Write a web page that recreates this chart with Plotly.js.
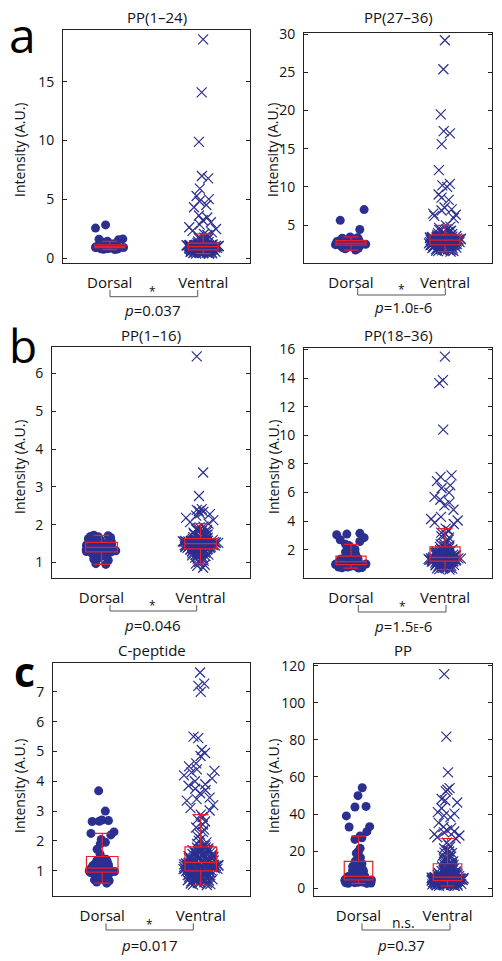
<!DOCTYPE html>
<html>
<head>
<meta charset="utf-8">
<script src="https://cdn.plot.ly/plotly-3.0.1.min.js"></script>
<style>html,body{margin:0;padding:0;background:#fff;}#chart{width:502px;height:961px;}</style>
</head>
<body>
<div id="chart"></div>
<script>
// ---------------- DATA ----------------
const categories = ['Dorsal', 'Ventral'];
const panelTitles = ['PP(1–24)', 'PP(27–36)', 'PP(1–16)', 'PP(18–36)', 'C-peptide', 'PP'];
const panelLetters = ['a', 'b', 'c'];
const sigLabels = ['*', '*', '*', '*', '*', 'n.s.'];
const pLabels = ['<i>p</i>=0.037', '<i>p</i>=1.0<span style="font-size:10px">E</span>-6',
                 '<i>p</i>=0.046', '<i>p</i>=1.5<span style="font-size:10px">E</span>-6',
                 '<i>p</i>=0.017', '<i>p</i>=0.37'];
const yTicks1 = [0, 5, 10, 15];
const yTicks2 = [5, 10, 15, 20, 25, 30];
const yTicks3 = [1, 2, 3, 4, 5, 6];
const yTicks4 = [2, 4, 6, 8, 10, 12, 14, 16];
const yTicks5 = [1, 2, 3, 4, 5, 6, 7];
const yTicks6 = [0, 20, 40, 60, 80, 100, 120];

// PP(1-24)
const pp124_dorsal = [0.88,0.95,1.02,0.79,0.91,1.12,0.86,0.97,1.35,0.83,0.93,1.05,0.74,0.9,1.18,0.96,0.87,1.01,2.55,0.94,
  1.25,0.81,0.99,1.08,0.92,0.77,1.42,0.89,1.03,0.95,1.6,0.85,0.98,1.14,0.93,2.82,0.72,1.06,0.9,1.3,
  0.96,0.84,1.55,1.0,0.88,1.22,0.94,1.63,0.8,1.1];
const pp124_ventral = [0.37,0.52,0.44,0.61,0.58,0.40,0.66,0.49,0.55,0.63,0.47,0.68,0.42,0.57,0.60,0.51,0.45,0.64,0.53,0.39,
  0.59,0.67,0.48,0.62,0.56,0.43,0.65,0.50,0.54,0.46,0.61,0.58,
  0.71,0.83,0.77,0.92,0.69,0.88,0.74,0.81,0.95,0.79,0.86,0.72,0.90,0.84,0.76,0.93,0.70,0.87,0.80,0.75,
  0.91,0.82,0.78,0.94,0.73,0.89,0.85,0.78,0.92,0.83,0.71,0.88,
  1.02,0.97,1.11,1.05,1.15,0.99,1.08,1.13,1.01,0.96,1.07,1.14,1.04,1.10,0.98,1.12,1.06,1.00,1.16,1.03,
  1.09,0.97,1.13,1.05,1.01,1.11,1.07,0.99,1.15,1.03,1.09,1.06,
  1.22,1.35,1.48,1.29,1.61,1.74,1.41,1.56,1.83,1.27,1.68,1.45,
  2.05,2.31,1.96,2.62,2.85,2.18,3.05,2.47,3.22,
  3.45,3.62,4.32,4.51,4.83,5.02,5.28,5.91,6.78,6.98,9.88,14.1,18.6];

// PP(27-36)
const pp2736_dorsal = [2.6,2.31,2.95,2.12,2.48,3.2,2.75,1.72,2.55,2.4,3.05,2.83,2.22,2.64,4.42,2.5,2.9,2.28,3.35,2.7,
  1.95,2.58,2.35,3.1,2.8,5.62,2.46,2.18,2.67,3.0,2.43,2.93,2.05,2.62,7.02,2.52,3.15,2.25,2.86,2.72,
  3.45,2.38,1.88,2.78,3.28];
const pp2736_ventral = [1.52,2.1,1.85,2.32,1.68,2.25,1.95,2.38,1.75,2.05,2.28,1.6,2.18,1.9,2.35,2.0,1.8,2.22,1.58,2.15,
  2.3,1.72,2.08,1.98,2.4,1.88,2.2,1.65,2.12,2.36,1.93,2.26,
  2.45,2.72,2.58,2.9,2.5,2.82,2.64,2.98,2.42,2.76,2.55,2.88,2.68,2.47,2.95,2.6,2.8,2.52,2.7,2.92,
  2.44,2.66,2.85,2.57,2.74,2.49,2.96,2.62,2.78,2.53,2.87,2.69,
  3.02,3.35,3.18,3.55,3.08,3.42,3.25,3.58,3.12,3.48,3.3,3.05,3.52,3.2,3.38,3.15,3.45,3.1,3.28,3.57,
  3.22,3.4,3.04,3.33,3.5,3.16,3.26,3.44,3.07,3.36,3.6,3.24,
  3.72,4.1,3.85,4.45,3.95,4.8,4.25,3.68,4.62,4.02,4.95,3.78,4.35,4.18,
  5.9,6.2,6.35,6.5,6.9,7.05,7.3,
  8.3,8.6,9.0,10.0,10.2,10.4,12.2,15.6,17.0,17.3,19.5,25.4,29.2];

// PP(1-16)
const pp116_dorsal = [0.95,0.97,1.06,1.09,1.13,1.16,1.17,1.21,1.22,1.24,1.25,1.27,
  1.28,1.3,1.31,1.32,1.34,1.35,1.36,1.37,1.38,1.33,1.29,1.39,1.36,
  1.41,1.43,1.44,1.46,1.47,1.48,1.5,1.51,1.52,1.42,1.45,1.49,1.53,
  1.55,1.57,1.58,1.6,1.62,1.63,1.65,1.66,1.68,1.69,1.71,1.72];
const pp116_ventral = [0.86,1.21,0.91,1.28,1.05,1.33,0.94,1.17,1.3,1.09,1.25,1.35,1.14,0.97,1.27,1.19,1.32,1.02,1.24,1.11,
  1.34,1.29,1.16,1.22,1.07,1.31,1.26,1.13,1.34,1.2,1.29,1.24,
  1.37,1.44,1.4,1.48,1.36,1.42,1.46,1.39,1.47,1.43,1.38,1.45,1.41,1.49,1.36,1.44,1.4,1.47,1.42,1.38,
  1.46,1.43,1.39,1.48,1.41,1.45,1.37,1.44,1.4,1.47,1.42,1.46,
  1.52,1.57,1.5,1.59,1.54,1.51,1.56,1.6,1.53,1.58,1.55,1.5,1.57,1.52,1.59,1.54,1.56,1.51,1.58,1.53,
  1.6,1.55,1.52,1.57,1.54,1.59,1.5,1.56,1.53,1.58,1.55,1.51,
  1.63,1.78,1.69,1.91,1.66,1.84,1.72,1.95,1.64,1.81,1.75,1.88,1.67,1.93,1.7,1.86,1.79,1.62,1.83,1.74,
  2.03,2.36,2.12,2.41,2.07,2.3,2.18,2.34,2.24,2.39,2.28,2.76,3.38,6.45];

// PP(18-36)
const pp1836_dorsal = [0.74,0.88,0.79,0.93,0.82,0.76,0.9,0.85,0.72,0.94,0.8,0.87,
  0.97,1.08,1.01,1.13,0.99,1.05,1.11,1.03,1.15,0.96,1.07,1.1,1.02,
  1.2,1.36,1.25,1.5,1.3,1.44,1.22,1.56,1.33,1.47,1.28,1.4,1.54,
  1.68,1.85,2.02,2.18,2.3,2.38,
  2.58,2.7,2.85,3.05,3.1,3.15];
const pp1836_ventral = [0.62,0.95,0.78,1.12,0.68,1.05,0.88,1.18,0.72,0.99,1.15,0.83,1.08,0.65,0.92,1.19,0.8,1.02,0.75,1.14,
  0.9,1.1,0.7,0.97,1.17,0.85,1.06,0.77,1.13,0.94,1.01,1.16,
  1.22,1.35,1.28,1.42,1.25,1.38,1.31,1.44,1.21,1.33,1.4,1.27,1.36,1.23,1.43,1.3,1.39,1.26,1.34,1.41,
  1.24,1.37,1.29,1.45,1.32,1.22,1.4,1.35,1.28,1.43,1.3,1.38,
  1.48,1.75,1.6,2.02,1.52,1.88,1.68,2.08,1.55,1.8,1.95,1.63,1.72,1.5,1.9,1.66,2.05,1.58,1.84,1.7,
  1.98,1.47,1.78,1.62,1.93,1.56,1.86,1.74,2.0,1.65,1.82,1.53,
  2.15,2.55,2.3,3.1,2.42,2.85,2.2,3.35,2.68,2.38,2.95,2.25,3.2,3.48,
  3.8,3.9,4.05,4.15,4.3,4.8,5.1,5.3,5.5,5.7,6.0,6.3,6.5,6.8,7.1,7.2,10.4,13.65,13.85,15.5];

// C-peptide
const cpep_dorsal = [0.58,0.85,0.66,0.92,0.72,0.62,0.88,0.78,0.94,0.69,0.82,0.9,0.75,0.8,
  0.96,1.02,0.99,1.05,0.97,1.04,1.0,1.06,0.98,1.03,1.01,1.07,0.99,1.03,
  1.1,1.25,1.15,1.38,1.2,1.32,1.12,1.28,1.35,1.18,1.22,1.4,1.3,1.27,
  1.55,1.72,1.9,1.95,2.05,
  2.2,2.25,2.3,2.65,2.66,2.68,2.7,3.0,3.68];
const cpep_ventral = [0.52,0.78,0.63,0.91,0.7,0.55,0.85,0.97,0.66,0.81,0.59,0.93,0.74,0.88,0.61,0.99,0.72,0.84,0.57,0.95,
  0.68,0.8,0.9,0.64,0.76,0.53,0.87,0.96,0.71,0.83,0.6,0.92,0.75,0.86,0.67,0.98,0.79,0.58,0.89,0.73,
  0.94,0.65,0.82,0.77,
  1.02,1.15,1.08,1.24,1.05,1.19,1.11,1.26,1.01,1.13,1.21,1.07,1.17,1.04,1.23,1.1,1.16,1.03,1.2,1.12,
  1.25,1.06,1.18,1.09,1.22,1.14,1.0,1.19,1.08,1.24,1.12,1.05,1.16,1.21,1.03,1.1,1.27,1.14,1.07,1.2,
  1.11,1.17,1.04,1.23,
  1.3,1.55,1.42,1.72,1.35,1.63,1.48,1.77,1.32,1.58,1.68,1.4,1.52,1.29,1.75,1.45,1.6,1.37,1.66,1.5,
  1.7,1.34,1.57,1.44,1.74,1.39,1.62,1.47,1.78,1.33,1.54,1.65,1.41,1.69,1.36,1.59,1.49,1.73,1.43,1.61,
  1.31,1.56,1.46,1.67,
  1.85,2.3,1.95,2.65,2.05,2.45,1.82,2.88,2.15,2.55,1.9,2.72,2.22,2.38,2.0,2.8,
  3.02,3.1,3.2,3.35,3.4,3.45,3.6,3.7,3.75,3.85,3.9,4.0,4.1,4.2,4.3,4.35,4.4,4.5,4.6,4.85,
  4.95,5.05,5.45,5.5,7.0,7.2,7.28,7.65];

// PP
const pp_dorsal = [2.6,3.8,3.1,4.4,2.9,3.5,4.1,2.7,3.3,4.3,3.0,3.9,2.8,3.6,4.2,3.2,
  4.6,5.8,5.1,6.4,4.8,5.5,6.1,4.7,5.3,6.3,5.0,5.9,4.9,5.6,6.2,5.2,
  6.8,10.5,8.2,14.6,7.4,11.8,9.1,13.2,7.0,12.5,8.8,10.0,7.8,14.2,9.6,11.2,
  16.5,18.8,19.8,21.5,26.3,27.2,28.1,
  30.5,33.0,33.2,39.0,43.8,44.1,49.9,54.2];
const pp_ventral = [1.3,3.2,2.1,3.9,1.6,2.8,3.5,2.4,1.9,3.7,2.6,1.4,3.0,2.2,3.8,1.8,2.9,3.4,2.0,4.0,
  1.5,2.7,3.3,2.3,3.6,1.7,3.1,2.5,3.9,1.2,2.8,3.5,2.1,3.7,1.9,3.0,2.6,4.05,1.6,3.2,
  2.4,3.8,2.0,3.4,
  4.2,5.1,4.6,5.8,4.4,5.4,4.9,5.7,4.3,5.0,5.5,4.7,5.2,4.15,5.85,4.8,5.3,4.5,5.6,4.25,
  5.05,4.65,5.45,4.35,5.75,4.95,5.25,4.55,5.65,4.45,5.15,4.85,5.35,4.75,5.55,4.2,5.9,4.6,5.0,4.4,
  5.3,4.9,5.7,4.3,
  6.1,9.5,7.4,12.6,6.6,10.8,8.2,12.1,6.3,9.0,11.5,7.0,8.8,6.0,12.9,7.8,10.2,6.8,11.0,8.5,
  12.4,6.4,9.8,7.2,11.8,6.9,9.2,7.6,12.8,8.0,10.5,6.2,11.3,7.5,9.6,6.7,12.2,8.4,10.0,7.1,
  11.7,6.5,9.3,7.9,
  13.5,18.2,15.1,22.5,14.2,19.8,16.4,24.5,13.8,20.5,17.0,23.2,14.8,18.9,15.6,21.4,16.8,19.2,14.5,17.6,
  26.8,27.5,28.4,29.2,30.1,30.6,31.2,32.4,33.1,35.2,38.3,39.1,40.2,41.0,43.1,46.2,47.3,48.1,52.2,53.1,
  54.0,62.5,81.7,115.4];

// ---------------- LAYOUT / STYLE ----------------
const W = 502, H = 961;
const px = x => x / W;
const py = y => 1 - y / H;
const BLUE = '#2b2f8f';
const RED = '#e8202a';
const AX = '#222';
const FONT = 'Open Sans, Noto Sans, sans-serif';

// Tukey upper fence, used only to split the points into two jitter groups
function upperFence(vals) {
  const s = [...vals].sort((a, b) => a - b);
  const q = f => { const p = (s.length - 1) * f, lo = Math.floor(p); return s[lo] + (s[Math.min(lo + 1, s.length - 1)] - s[lo]) * (p - lo); };
  const q1 = q(0.25), q3 = q(0.75);
  return q3 + 1.5 * (q3 - q1);
}

const panels = [
  {d: pp124_dorsal,  v: pp124_ventral,  box: [63, 30, 250, 263],  range: [-0.42, 19.4], ticks: yTicks1,
   br: [110, 197.7, 290, 296.7], star: [152.7, 291], pt: [152.5, 309.5], title: [156.5, 17], ylab: [20, 150]},
  {d: pp2736_dorsal, v: pp2736_ventral, box: [304, 33, 492, 263], range: [0.03, 30.15], ticks: yTicks2,
   br: [357.7, 445.3, 288.3, 295], star: [401, 289.5], pt: [403, 307], title: [398, 17], ylab: [273, 150]},
  {d: pp116_dorsal,  v: pp116_ventral,  box: [52, 347, 250, 578], range: [0.59, 6.7], ticks: yTicks3,
   br: [110, 196.7, 605, 611], star: [152.7, 605.5], pt: [152.5, 625], title: [151, 335], ylab: [19, 467]},
  {d: pp1836_dorsal, v: pp1836_ventral, box: [304, 348, 492, 578], range: [0.03, 16.1], ticks: yTicks4,
   br: [358.3, 446, 605, 612], star: [402.7, 606], pt: [403, 626], title: [398, 335], ylab: [273, 467]},
  {d: cpep_dorsal,   v: cpep_ventral,   box: [53, 663, 250, 896], range: [0.15, 7.97], ticks: yTicks5,
   br: [106, 193.3, 923.3, 930], star: [149, 924], pt: [149.7, 944.5], title: [152, 650], ylab: [19, 786]},
  {d: pp_dorsal,     v: pp_ventral,     box: [314, 664, 492, 896], range: [-4.2, 120.9], ticks: yTicks6,
   br: [362, 450, 923.3, 930], star: [403, 922], pt: [401, 944.5], title: [403, 650], ylab: [273, 786]}
];

const traces = [];
const layout = {
  width: W, height: H,
  margin: {l: 0, r: 0, t: 0, b: 0},
  paper_bgcolor: '#fff', plot_bgcolor: '#fff',
  showlegend: false,
  boxmode: 'overlay',
  font: {family: FONT, color: '#111', size: 14},
  annotations: [], shapes: []
};

panels.forEach((p, i) => {
  const n = i + 1;
  const xa = 'x' + (n === 1 ? '' : n), ya = 'y' + (n === 1 ? '' : n);
  const groups = [p.d, p.v];
  groups.forEach((vals, g) => {
    const isD = g === 0;
    const uf = upperFence(vals);
    const parts = [vals.filter(v => v <= uf), vals.filter(v => v > uf)];
    parts.forEach(part => {
      if (!part.length) return;
      traces.push({
        type: 'box', y: part, x0: g + 1, xaxis: xa, yaxis: ya,
        boxpoints: 'all', jitter: 1, pointpos: 0, width: 0.36,
        line: {width: 0, color: 'rgba(0,0,0,0)'}, fillcolor: 'rgba(0,0,0,0)',
        marker: isD ? {symbol: 'circle', size: 9, color: BLUE, line: {width: 0}}
                    : {symbol: 'x-thin', size: 10, color: BLUE, line: {width: 1.2, color: BLUE}},
        hoverinfo: 'skip'
      });
    });
  });
  groups.forEach((vals, g) => {
    traces.push({
      type: 'box', y: vals, x0: g + 1, xaxis: xa, yaxis: ya,
      boxpoints: 'outliers', marker: {opacity: 0, size: 1}, width: 0.32, whiskerwidth: 0.5,
      line: {color: RED, width: 1.2}, fillcolor: 'rgba(0,0,0,0)', hoverinfo: 'skip'
    });
  });
  const [l, t, r, b] = p.box;
  layout['xaxis' + (n === 1 ? '' : n)] = {
    domain: [px(l), px(r)], anchor: ya, range: [0.5, 2.5],
    tickvals: [1, 2], ticktext: categories, ticks: '', ticklabelstandoff: 6,
    showline: true, mirror: true, linecolor: AX, linewidth: 1,
    showgrid: false, zeroline: false, tickfont: {size: 15, family: FONT, color: '#111'}, fixedrange: true
  };
  layout['yaxis' + (n === 1 ? '' : n)] = {
    domain: [py(b), py(t)], anchor: xa, range: p.range,
    tickvals: p.ticks, ticks: 'inside', ticklen: 4, tickwidth: 1, tickcolor: AX, ticklabelstandoff: 5,
    showline: true, mirror: 'ticks', linecolor: AX, linewidth: 1,
    showgrid: false, zeroline: false, tickfont: {size: 14, family: FONT, color: '#111'}, fixedrange: true
  };
  layout.annotations.push({xref: 'paper', yref: 'paper', x: px(p.title[0]), y: py(p.title[1]),
    xanchor: 'center', yanchor: 'middle', text: panelTitles[i], showarrow: false, font: {size: 15}});
  layout.annotations.push({xref: 'paper', yref: 'paper', x: px(p.ylab[0]), y: py(p.ylab[1]),
    xanchor: 'center', yanchor: 'middle', text: 'Intensity (A.U.)', textangle: -90, showarrow: false, font: {size: 14}});
  const [x1, x2, yt, yb] = p.br;
  layout.shapes.push({type: 'path', xref: 'paper', yref: 'paper',
    path: `M ${px(x1)},${py(yt)} L ${px(x1)},${py(yb)} L ${px(x2)},${py(yb)} L ${px(x2)},${py(yt)}`,
    line: {color: '#555', width: 1}});
  layout.annotations.push({xref: 'paper', yref: 'paper', x: px(p.star[0]), y: py(p.star[1]),
    xanchor: 'center', yanchor: 'middle', text: sigLabels[i], showarrow: false,
    font: {size: sigLabels[i] === '*' ? 12 : 14}});
  layout.annotations.push({xref: 'paper', yref: 'paper', x: px(p.pt[0]), y: py(p.pt[1]),
    xanchor: 'center', yanchor: 'middle', text: pLabels[i], showarrow: false, font: {size: 15}});
});

// panel letters
const letterPos = [[22.5, 34, 48, 400], [23, 345, 46, 400], [24, 671, 41, 700]];
letterPos.forEach((lp, k) => {
  layout.annotations.push({xref: 'paper', yref: 'paper', x: px(lp[0]), y: py(lp[1]),
    xanchor: 'center', yanchor: 'middle', text: panelLetters[k], showarrow: false,
    font: {size: lp[2], family: FONT, color: '#000', weight: lp[3]}});
});

Plotly.newPlot('chart', traces, layout, {staticPlot: true, displayModeBar: false});
</script>
</body>
</html>
